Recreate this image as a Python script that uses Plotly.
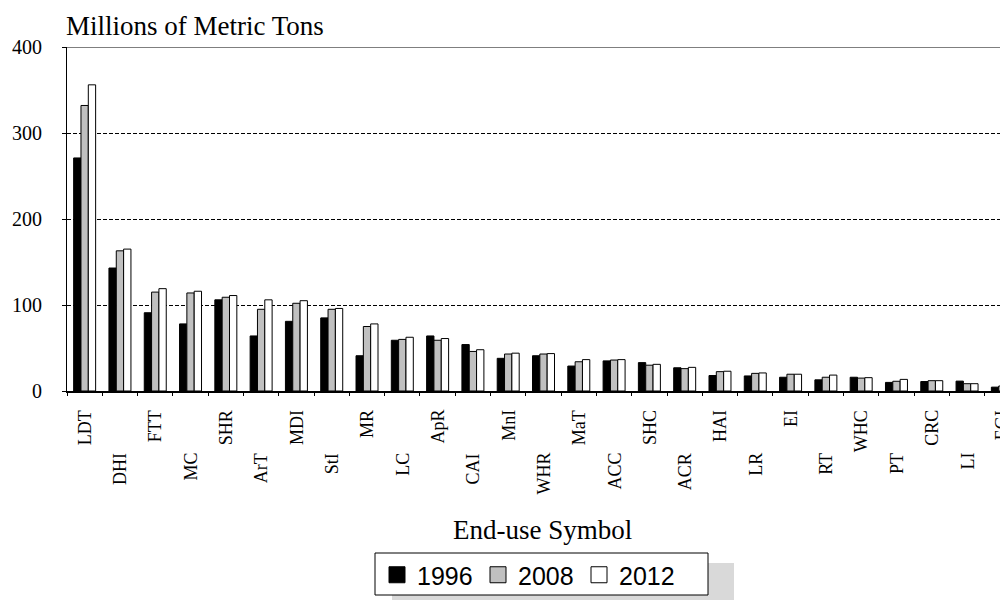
import plotly.graph_objects as go

categories = ["LDT", "DHI", "FTT", "MC", "SHR", "ArT", "MDI", "StI", "MR", "LC",
              "ApR", "CAI", "MnI", "WHR", "MaT", "ACC", "SHC", "ACR", "HAI", "LR",
              "EI", "RT", "WHC", "PT", "CRC", "LI", "EGI"]
v1996 = [271, 143, 91, 78, 106, 64, 81, 85, 41, 59, 64, 54, 38, 41, 29, 35, 33, 27,
         18, 17.5, 16, 13, 16, 10, 11, 11.5, 4.5]
v2008 = [332, 163, 115, 114, 109, 95, 102, 95, 75, 60, 59, 46, 43, 43, 34, 36, 30, 26,
         22.5, 20.5, 19.5, 16, 15, 11.3, 12, 8.5, 5.8]
v2012 = [356, 165, 119, 116, 111, 106, 105, 96, 78, 62.5, 61, 48, 44, 43.5, 36.5, 36.5,
         31, 27.5, 23, 21, 19.5, 18.5, 15.5, 13.5, 12, 8.5, 5.3]
series_names = ["1996", "2008", "2012"]
series_colors = ["#000000", "#C0C0C0", "#FFFFFF"]
y_ticks = [0, 100, 200, 300, 400]

SERIF = "Times New Roman, Liberation Serif, serif"
SANS = "Arial, Liberation Sans, sans-serif"

# page body has an 8px margin: figure is 1000x592 placed at (8, 8)
W, H = 1000, 592
L, T = 59, 39          # plot area left / top in figure px
PW, PH = 941, 344      # plot area size


def px(xr):   # reference-screen x -> paper x
    return (xr - 8 - L) / PW


def py(yr):   # reference-screen y -> paper y
    return (T + PH - (yr - 8)) / PH


fig = go.Figure()
for name, vals, col in zip(series_names, [v1996, v2008, v2012], series_colors):
    fig.add_trace(go.Bar(
        x=categories, y=vals, name=name, showlegend=False,
        marker=dict(color=col, line=dict(color="#000000", width=1)),
    ))
# legend entries with larger square swatches
for name, col in zip(series_names, series_colors):
    fig.add_trace(go.Scatter(
        x=[None], y=[None], mode="markers", name=name,
        marker=dict(symbol="square", size=16, color=col,
                    line=dict(color="#000000", width=1)),
    ))

annotations = []
for i, c in enumerate(categories):
    annotations.append(dict(
        x=c, xref="x", y=0, yref="paper", text=c, showarrow=False,
        textangle=-90, xanchor="center", yanchor="top",
        yshift=-17 if i % 2 == 0 else -60,
        font=dict(family=SERIF, size=18, color="black"),
    ))
annotations.append(dict(
    x=0, xref="paper", y=1, yref="paper", text="Millions of Metric Tons",
    showarrow=False, xanchor="left", yanchor="bottom", yshift=4, xshift=-3,
    font=dict(family=SERIF, size=27, color="black"),
))
annotations.append(dict(
    x=px(542), xref="paper", y=py(530), yref="paper",
    text="End-use Symbol", showarrow=False, xanchor="center", yanchor="middle",
    font=dict(family=SERIF, size=27, color="black"),
))

shapes = [
    dict(type="line", xref="paper", yref="y", x0=0, x1=1, y0=400, y1=400,
         line=dict(color="black", width=1)),
    # legend shadow and box
    dict(type="rect", xref="paper", yref="paper",
         x0=px(392), x1=px(734), y0=py(610), y1=py(563),
         fillcolor="#D9D9D9", line=dict(width=0), layer="below"),
    dict(type="rect", xref="paper", yref="paper",
         x0=px(375), x1=px(708), y0=py(595), y1=py(553),
         fillcolor="white", line=dict(color="black", width=1), layer="below"),
]

fig.update_layout(
    width=W, height=H,
    margin=dict(l=L, r=W - L - PW, t=T, b=H - T - PH, autoexpand=False),
    paper_bgcolor="white", plot_bgcolor="white",
    barmode="group", bargap=0.377, bargroupgap=0,
    showlegend=True,
    legend=dict(
        orientation="h", x=px(377), xanchor="left",
        y=py(575), yanchor="middle",
        borderwidth=0, bgcolor="rgba(0,0,0,0)",
        font=dict(family=SANS, size=25, color="black"),
        entrywidth=56, entrywidthmode="pixels",
        itemsizing="trace",
    ),
    xaxis=dict(
        type="category", range=[-0.5, 26.16], automargin=False,
        showline=True, linecolor="black", linewidth=1.5,
        ticks="outside", ticklen=3, tickcolor="black", tickson="boundaries",
        showticklabels=False, showgrid=False, zeroline=False, fixedrange=True,
    ),
    yaxis=dict(
        range=[0, 400], tickvals=y_ticks, automargin=False,
        showline=True, linecolor="black", linewidth=1,
        ticks="outside", ticklen=4, tickcolor="black",
        showgrid=True, gridcolor="black", griddash="4px,2px", gridwidth=1,
        zeroline=False, ticklabelstandoff=16,
        tickfont=dict(family=SERIF, size=20, color="black"),
    ),
    annotations=annotations,
    shapes=shapes,
)

fig.write_html("out.html")
